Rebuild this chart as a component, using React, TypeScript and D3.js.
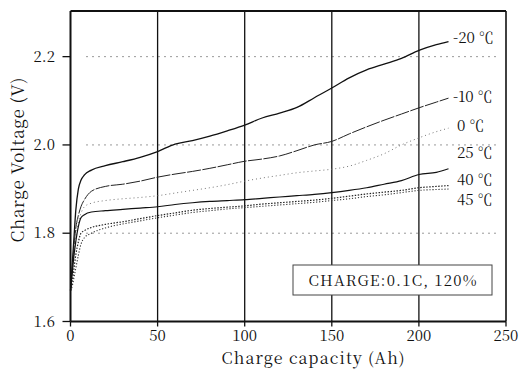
import React from "react";
import * as d3 from "d3";

// Charge capacity grid (Ah) shared by all temperature series
const capacity = [0, 1, 2, 3, 4.5, 6, 8, 12, 20, 30, 40, 50, 60, 70, 80, 90, 100, 110, 120, 130, 140, 150, 160, 170, 180, 190, 200, 210, 217];

// Charge voltage (V) per temperature
const voltM20 = [1.67, 1.73, 1.79, 1.85, 1.90, 1.92, 1.932, 1.943, 1.953, 1.962, 1.972, 1.985, 2.002, 2.01, 2.02, 2.032, 2.045, 2.061, 2.072, 2.085, 2.107, 2.129, 2.152, 2.17, 2.183, 2.196, 2.214, 2.227, 2.234];
const voltM10 = [1.67, 1.72, 1.77, 1.81, 1.84, 1.86, 1.876, 1.895, 1.906, 1.911, 1.918, 1.927, 1.934, 1.94, 1.947, 1.955, 1.963, 1.968, 1.975, 1.987, 2.0, 2.008, 2.025, 2.041, 2.056, 2.07, 2.084, 2.097, 2.106];
const volt0 = [1.67, 1.71, 1.75, 1.79, 1.825, 1.845, 1.86, 1.868, 1.874, 1.878, 1.881, 1.885, 1.891, 1.897, 1.903, 1.91, 1.918, 1.925, 1.931, 1.937, 1.941, 1.945, 1.952, 1.965, 1.98, 2.0, 2.016, 2.03, 2.038];
const volt25 = [1.67, 1.71, 1.75, 1.78, 1.815, 1.835, 1.842, 1.848, 1.851, 1.854, 1.857, 1.86, 1.865, 1.869, 1.872, 1.874, 1.876, 1.879, 1.882, 1.885, 1.888, 1.892, 1.897, 1.903, 1.911, 1.919, 1.933, 1.938, 1.946];
const volt40 = [1.67, 1.69, 1.72, 1.75, 1.78, 1.80, 1.806, 1.813, 1.82, 1.826, 1.833, 1.84, 1.846, 1.852, 1.856, 1.859, 1.862, 1.866, 1.869, 1.872, 1.875, 1.879, 1.884, 1.889, 1.893, 1.897, 1.903, 1.906, 1.908];
const volt45 = [1.67, 1.68, 1.70, 1.72, 1.75, 1.775, 1.79, 1.80, 1.812, 1.821, 1.828, 1.835, 1.841, 1.847, 1.851, 1.855, 1.858, 1.861, 1.864, 1.867, 1.87, 1.874, 1.878, 1.883, 1.887, 1.892, 1.897, 1.899, 1.9];

const seriesLabels = ["-20 ℃", "-10 ℃", "0 ℃", "25 ℃", "40 ℃", "45 ℃"];
const xTicks = [0, 50, 100, 150, 200, 250];
const yTicks = [1.6, 1.8, 2.0, 2.2];
const yGrid = [1.8, 2.0, 2.2];
const xGrid = [50, 100, 150, 200];

const W = 522;
const H = 369;
const left = 70.5;
const right = 506;
const top = 11;
const bottom = 321.5;

const FONT = "'Noto Serif CJK JP', 'Liberation Serif', serif";

export default function App() {
  const x = d3.scaleLinear().domain([0, 250]).range([left, right]);
  const y = d3.scaleLinear().domain([1.6, 2.3]).range([bottom, top + 1.5]);

  const line = d3
    .line<[number, number]>()
    .x((d) => x(d[0]))
    .y((d) => y(d[1]))
    .curve(d3.curveMonotoneX);

  const series = [
    { v: voltM20, stroke: "#111", width: 1.3, dash: undefined as string | undefined, labelY: 38 },
    { v: voltM10, stroke: "#222", width: 1.0, dash: "14,1.5", labelY: 97 },
    { v: volt0, stroke: "#777", width: 1.0, dash: "1,3", labelY: 126 },
    { v: volt25, stroke: "#111", width: 1.2, dash: undefined, labelY: 153 },
    { v: volt40, stroke: "#222", width: 1.2, dash: "1.5,1.5", labelY: 180 },
    { v: volt45, stroke: "#333", width: 1.1, dash: "1.2,1.8", labelY: 200 },
  ];

  const txt = { fontFamily: FONT };

  return (
    <svg
      width={W}
      height={H}
      viewBox={`0 0 ${W} ${H}`}
      style={{ position: "absolute", left: 0, top: 0, background: "#fff" }}
    >
      <rect x={0} y={0} width={W} height={H} fill="#fff" />

      {/* horizontal dotted grid */}
      {yGrid.map((v) => (
        <line
          key={`hg${v}`}
          x1={86}
          x2={500}
          y1={y(v)}
          y2={y(v)}
          stroke="#999"
          strokeWidth={1}
          strokeDasharray="2,4"
        />
      ))}

      {/* vertical solid grid */}
      {xGrid.map((v) => (
        <line key={`vg${v}`} x1={x(v)} x2={x(v)} y1={top} y2={bottom} stroke="#111" strokeWidth={1.3} />
      ))}

      {/* curves */}
      {series.map((s, i) => (
        <path
          key={`s${i}`}
          d={line(capacity.map((c, j) => [c, s.v[j]] as [number, number])) || ""}
          fill="none"
          stroke={s.stroke}
          strokeWidth={s.width}
          strokeDasharray={s.dash}
        />
      ))}

      {/* frame */}
      <line x1={left} x2={right} y1={top} y2={top} stroke="#111" strokeWidth={2} />
      <line x1={right} x2={right} y1={top} y2={bottom} stroke="#111" strokeWidth={1.6} />
      <line x1={left} x2={right} y1={bottom} y2={bottom} stroke="#111" strokeWidth={2} />
      <line x1={left} x2={left} y1={top} y2={bottom} stroke="#111" strokeWidth={2} />

      {/* y ticks */}
      {yTicks.map((v) => (
        <g key={`yt${v}`}>
          <line x1={left - 8} x2={left} y1={y(v)} y2={y(v)} stroke="#111" strokeWidth={1.3} />
          <text x={55} y={y(v) + 5} textAnchor="end" fontSize={15} fill="#111" style={txt}>
            {v.toFixed(1)}
          </text>
        </g>
      ))}

      {/* x ticks */}
      {xTicks.map((v) => (
        <g key={`xt${v}`}>
          <line x1={x(v)} x2={x(v)} y1={bottom} y2={bottom + 5} stroke="#111" strokeWidth={1.3} />
          <text x={x(v)} y={340.5} textAnchor="middle" fontSize={15} fill="#111" style={txt}>
            {v}
          </text>
        </g>
      ))}

      {/* series labels */}
      {series.map((s, i) => (
        <text
          key={`lb${i}`}
          x={seriesLabels[i].startsWith("-") ? 453 : 457}
          y={s.labelY + 5}
          fontSize={15}
          fill="#111"
          style={txt}
        >
          {seriesLabels[i]}
        </text>
      ))}

      {/* condition box */}
      <rect x={293} y={265} width={199} height={30} fill="#fff" stroke="#444" strokeWidth={1} />
      <text
        x={392.5}
        y={285.5}
        textAnchor="middle"
        fontSize={15}
        fill="#111"
        textLength={168}
        lengthAdjust="spacing"
        style={txt}
      >
        CHARGE:0.1C, 120%
      </text>

      {/* axis titles */}
      <text
        x={313}
        y={363.5}
        textAnchor="middle"
        fontSize={16}
        fill="#111"
        textLength={183}
        lengthAdjust="spacing"
        style={txt}
      >
        Charge capacity (Ah)
      </text>
      <text
        transform={`translate(24,160) rotate(-90)`}
        textAnchor="middle"
        fontSize={17}
        fill="#111"
        textLength={165}
        lengthAdjust="spacing"
        style={txt}
      >
        Charge Voltage (V)
      </text>
    </svg>
  );
}
